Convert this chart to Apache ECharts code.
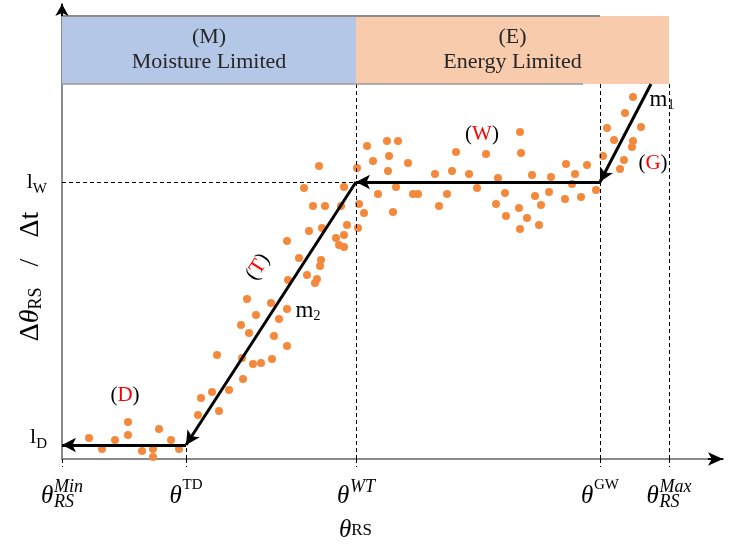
<!DOCTYPE html>
<html>
<head>
<meta charset="utf-8">
<title>Soil moisture regimes</title>
<script src="https://cdn.jsdelivr.net/npm/echarts@6/dist/echarts.min.js"></script>
<style>
  html, body { margin: 0; padding: 0; background: #fff; }
  #chart { width: 750px; height: 545px; }
</style>
</head>
<body>
<div id="chart"></div>
<script>
var SERIF = '"Liberation Serif", "Times New Roman", serif';

// axis extents (theta units / dtheta-dt units)
var xMax = 661;
var yMax = 455;

// theta thresholds: RS min, TD, WT, GW, RS max
var thetaTicks = [0, 124, 294, 538, 607];
// plateau levels: lD, lW
var levelTicks = [14, 277];
// regime band (top strip)
var bandLow = 375;
var bandHigh = 443;

// piecewise response, drawn from the wet end to the dry end
var pathPts = [[589, 375], [538, 277], [294, 277], [124, 14], [0, 14]];

// observations per regime
var dryPts = [
    [27, 21], [40, 10], [53, 19], [66, 37], [66, 24], [80, 8], [91, 10],
    [91, 2], [97, 30], [109, 19], [117, 10]
];
var transPts = [
    [136, 44], [139, 61], [150, 67], [157, 48], [167, 69], [155, 104], [181, 80],
    [180, 101], [191, 95], [199, 96], [210, 100], [225, 113], [179, 134], [187, 126],
    [212, 123], [194, 144], [217, 140], [185, 160], [209, 156], [225, 150], [226, 179],
    [225, 218], [237, 201], [245, 184], [255, 180], [253, 176], [259, 199], [258, 193],
    [257, 293], [242, 271], [282, 272], [251, 253], [263, 253], [279, 253], [247, 228],
    [260, 231], [285, 234], [274, 221], [282, 224], [277, 214], [282, 212], [295, 291],
    [297, 255], [302, 246], [296, 231], [305, 313], [311, 298], [316, 265]
];
var wetPts = [
    [325, 318], [336, 318], [327, 303], [326, 288], [346, 296], [394, 307], [373, 285],
    [390, 288], [407, 285], [334, 272], [351, 265], [356, 265], [385, 265], [415, 271],
    [377, 253], [331, 247], [458, 327], [424, 305], [459, 306], [436, 281], [470, 284],
    [489, 282], [504, 295], [513, 285], [525, 294], [510, 275], [443, 266], [473, 263],
    [487, 267], [503, 260], [519, 262], [534, 269], [434, 255], [457, 251], [479, 254],
    [444, 243], [465, 241], [477, 234], [458, 230]
];
var gravPts = [
    [545, 331], [552, 319], [571, 318], [570, 312], [541, 303], [562, 299], [558, 290],
    [579, 332], [563, 346], [571, 362]
];

function thetaLabel(v) {
    switch (thetaTicks.indexOf(v)) {
        case 0: return '{sp| }{si|Min}\n{th|θ}{sb|RS}';
        case 1: return '{sp| }{su|TD}\n{th|θ}';
        case 2: return '{sp| }{si|WT}\n{th|θ}';
        case 3: return '{sp| }{su|GW}\n{th|θ}';
        case 4: return '{sp| }{si|Max}\n{th|θ}{sb|RS}';
    }
    return '';
}

function levelLabel(v) {
    if (v === levelTicks[1]) {
        return '{l|l}{s|W}';
    }
    // lD sits a little above its level
    return '{l|l}{s|D}\n{gap| }';
}

// guide lines
var guides = [
    [{ coord: [thetaTicks[2], 0] }, { coord: [thetaTicks[2], bandLow] }],
    [{ coord: [thetaTicks[3], 0] }, { coord: [thetaTicks[3], bandLow] }],
    [{ coord: [thetaTicks[4], 0] }, { coord: [thetaTicks[4], bandLow] }],
    [{ coord: [thetaTicks[1], 0] }, { coord: [thetaTicks[1], levelTicks[0]] }],
    [{ coord: [0, levelTicks[1]] }, { coord: [thetaTicks[2], levelTicks[1]] }],
    [{ coord: [0, bandHigh], lineStyle: { type: 'solid', color: '#8c8c8c', width: 2 } }, { coord: [thetaTicks[3], bandHigh] }],
    [{ coord: [0, bandLow], lineStyle: { type: 'solid', color: '#9a9a9a', width: 1.5 } }, { coord: [521, bandLow] }]
];

var arrows = [];
for (var i = 0; i < pathPts.length - 1; i++) {
    arrows.push([{ coord: pathPts[i] }, { coord: pathPts[i + 1], symbolSize: [11, 14] }]);
}
// axis heads
arrows.push([{ coord: [0, yMax - 12], lineStyle: { width: 2 } }, { coord: [0, yMax], symbolSize: [10, 12] }]);
arrows.push([{ coord: [xMax - 15, 0], lineStyle: { width: 2 } }, { coord: [xMax, 0], symbolSize: [10, 15] }]);

var noteRich = {
    p: { fontFamily: SERIF, fontSize: 21, color: '#000' },
    r: { fontFamily: SERIF, fontSize: 21, color: '#ff0000' },
    m: { fontFamily: SERIF, fontSize: 23, lineHeight: 24, color: '#000' },
    i: { fontFamily: SERIF, fontSize: 14, lineHeight: 12, verticalAlign: 'bottom', color: '#000' }
};

var chart = echarts.init(document.getElementById('chart'));

var option = {
    animation: false,
    backgroundColor: '#fff',
    grid: { left: 62, right: 27, top: 4, bottom: 86, outerBoundsMode: 'none' },
    xAxis: {
        type: 'value',
        min: 0,
        max: xMax,
        name: '{t|θ}{s|RS}',
        nameLocation: 'middle',
        nameGap: 62,
        nameMoveOverlap: false,
        nameTextStyle: {
            padding: [0, 74, 0, 0],
            rich: {
                t: { fontFamily: SERIF, fontStyle: 'italic', fontSize: 25, lineHeight: 18, color: '#000' },
                s: { fontFamily: SERIF, fontSize: 17, lineHeight: 10, verticalAlign: 'bottom', color: '#000' }
            }
        },
        axisLine: { show: true, onZero: false, lineStyle: { color: '#8a8a8a', width: 2 } },
        splitLine: { show: false },
        axisTick: {
            show: true,
            customValues: thetaTicks,
            length: 8,
            lineStyle: { color: '#000', width: 1, type: [4, 3] }
        },
        axisLabel: {
            customValues: thetaTicks,
            margin: 19,
            fontFamily: SERIF,
            color: '#000',
            formatter: thetaLabel,
            rich: {
                sp: { width: 13, fontSize: 2, lineHeight: 6, align: 'left' },
                si: { fontFamily: SERIF, fontStyle: 'italic', fontSize: 18, lineHeight: 6, verticalAlign: 'top', align: 'left', color: '#000' },
                su: { fontFamily: SERIF, fontSize: 15, lineHeight: 6, verticalAlign: 'top', align: 'left', color: '#000' },
                th: { fontFamily: SERIF, fontStyle: 'italic', fontSize: 25, lineHeight: 18, width: 13, verticalAlign: 'top', align: 'left', color: '#000' },
                sb: { fontFamily: SERIF, fontStyle: 'italic', fontSize: 18, lineHeight: 27, verticalAlign: 'bottom', align: 'left', color: '#000' }
            }
        }
    },
    yAxis: {
        type: 'value',
        min: 0,
        max: yMax,
        name: '{d|Δ}{t|θ}{s|RS}{d|   /   Δt}',
        nameLocation: 'middle',
        nameRotate: 90,
        nameGap: 17,
        nameMoveOverlap: false,
        nameTextStyle: {
            padding: [0, 90, 0, 0],
            rich: {
                d: { fontFamily: SERIF, fontSize: 28, lineHeight: 28, color: '#000' },
                t: { fontFamily: SERIF, fontStyle: 'italic', fontSize: 28, lineHeight: 28, color: '#000' },
                s: { fontFamily: SERIF, fontSize: 18, lineHeight: 12, verticalAlign: 'bottom', color: '#000' }
            }
        },
        axisLine: { show: true, onZero: false, lineStyle: { color: '#8a8a8a', width: 2 } },
        axisTick: { show: false },
        splitLine: { show: false },
        axisLabel: {
            customValues: levelTicks,
            margin: 15,
            fontFamily: SERIF,
            color: '#000',
            formatter: levelLabel,
            rich: {
                l: { fontFamily: SERIF, fontSize: 22, lineHeight: 22, color: '#000' },
                s: { fontFamily: SERIF, fontSize: 15, lineHeight: 29, verticalAlign: 'bottom', color: '#000' },
                gap: { fontSize: 2, lineHeight: 16 }
            }
        }
    },
    series: [
        {
            // regime bands + dashed guides
            type: 'line',
            data: [],
            silent: true,
            z: 1,
            markArea: {
                silent: true,
                itemStyle: { opacity: 1 },
                label: {
                    show: true,
                    position: 'inside',
                    fontFamily: SERIF,
                    fontSize: 22,
                    lineHeight: 25,
                    color: '#262626'
                },
                data: [
                    [{ coord: [thetaTicks[0], bandLow], itemStyle: { color: '#B4C7E7' }, label: { formatter: '(M)\nMoisture Limited' } },
                     { coord: [thetaTicks[2], bandHigh] }],
                    [{ coord: [thetaTicks[2], bandLow], itemStyle: { color: '#F8CBAD' }, label: { formatter: '(E)\nEnergy Limited' } },
                     { coord: [thetaTicks[4], bandHigh] }]
                ]
            },
            markLine: {
                silent: true,
                symbol: 'none',
                label: { show: false },
                emphasis: { disabled: true },
                lineStyle: { color: '#000', width: 1, type: [4, 3] },
                data: guides
            }
        },
        {
            name: 'observations',
            type: 'scatter',
            data: dryPts.concat(transPts, wetPts, gravPts),
            symbolSize: 8,
            silent: true,
            itemStyle: { color: '#F5893B', opacity: 1 },
            z: 2
        },
        {
            // arrows + annotations
            type: 'line',
            data: [],
            silent: true,
            z: 3,
            markLine: {
                silent: true,
                symbol: ['none', 'arrow'],
                label: { show: false },
                emphasis: { disabled: true },
                lineStyle: { color: '#000', width: 3, type: 'solid' },
                data: arrows
            },
            markPoint: {
                silent: true,
                symbol: 'circle',
                symbolSize: 1,
                itemStyle: { color: 'rgba(0,0,0,0)' },
                label: { show: true, position: 'inside', fontFamily: SERIF, color: '#000', rich: noteRich },
                data: [
                    { coord: [420, 325], label: { formatter: '{p|(}{r|W}{p|)}' } },
                    { coord: [63, 64], label: { formatter: '{p|(}{r|D}{p|)}' } },
                    { coord: [591, 296], label: { formatter: '{p|(}{r|G}{p|)}' } },
                    { coord: [196, 192], label: { formatter: '{p|(}{r|T}{p|)}', rotate: 57 } },
                    { coord: [600, 359], label: { formatter: '{m|m}{i|1}' } },
                    { coord: [246, 148], label: { formatter: '{m|m}{i|2}' } }
                ]
            }
        }
    ]
};

chart.setOption(option);
</script>
</body>
</html>
